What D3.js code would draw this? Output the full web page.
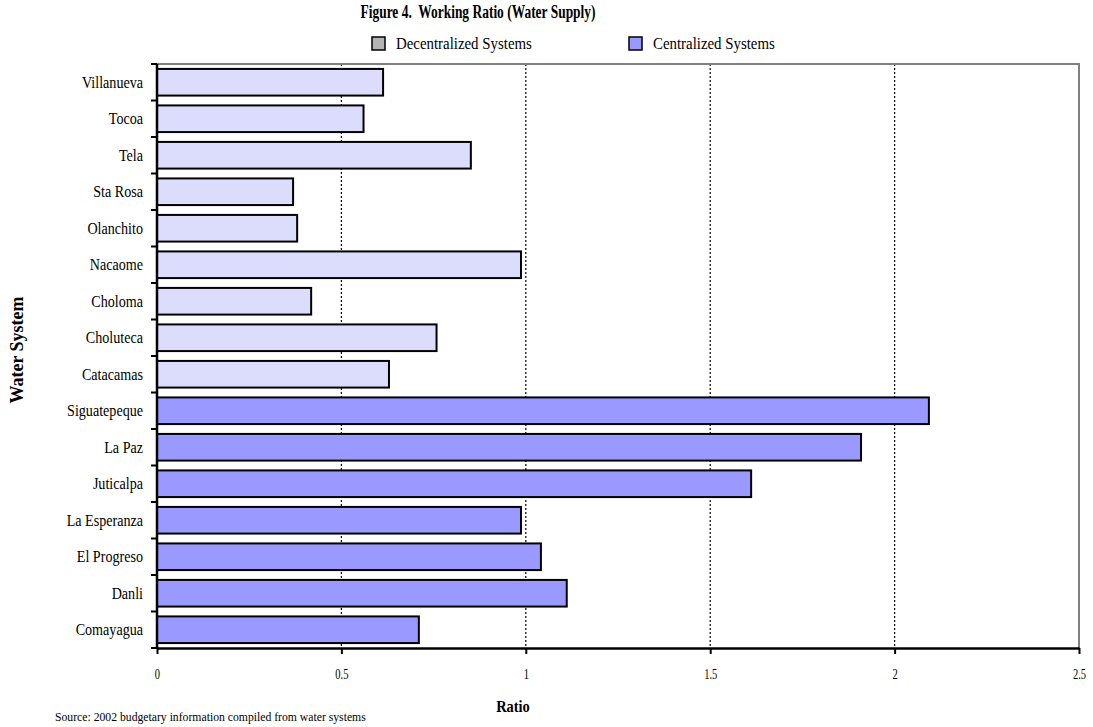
<!DOCTYPE html>
<html>
<head>
<meta charset="utf-8">
<script src="https://cdn.jsdelivr.net/npm/d3@7/dist/d3.min.js"></script>
<style>
  body { margin: 0; background: #fff; }
  svg { display: block; font-family: "Liberation Serif", "Times New Roman", serif; }
  text { white-space: pre; }
</style>
</head>
<body>
<svg id="chart" width="1093" height="727"></svg>
<script>
// Water systems, listed top to bottom
const systems = ["Villanueva", "Tocoa", "Tela", "Sta Rosa", "Olanchito", "Nacaome", "Choloma",
  "Choluteca", "Catacamas", "Siguatepeque", "La Paz", "Juticalpa", "La Esperanza",
  "El Progreso", "Danli", "Comayagua"];
// Working ratio per system
const ratios = [0.613, 0.56, 0.851, 0.369, 0.38, 0.987, 0.418, 0.758, 0.629,
  2.093, 1.909, 1.611, 0.987, 1.041, 1.111, 0.71];
// System type per system
const systemTypes = ["Decentralized", "Decentralized", "Decentralized", "Decentralized",
  "Decentralized", "Decentralized", "Decentralized", "Decentralized", "Decentralized",
  "Centralized", "Centralized", "Centralized", "Centralized", "Centralized", "Centralized", "Centralized"];
const xTicks = [0, 0.5, 1, 1.5, 2, 2.5];
const legendItems = ["Decentralized Systems", "Centralized Systems"];

const rows = systems.map((name, i) => ({ name, value: ratios[i], type: systemTypes[i] }));

const svg = d3.select("#chart");
const plot = { left: 157, right: 1079, top: 64, bottom: 648 };

const x = d3.scaleLinear().domain([0, 2.5]).range([plot.left, plot.right]);
const y = d3.scaleBand().domain(systems).range([plot.top, plot.bottom])
  .paddingInner(0.27).paddingOuter(0.135);

const barFill = { Decentralized: "#dcdcfc", Centralized: "#9999ff" };
const legendFill = ["#b4b4b4", "#9999ff"];

// Narrow serif text: a label drawn at (tx, ty) and squeezed horizontally by sx
function label(parent, tx, ty, str, size, sx, anchor, weight) {
  const g = parent.append("g").attr("transform", `translate(${tx},${ty}) scale(${sx},1)`);
  g.append("text").attr("text-anchor", anchor || "start")
    .attr("font-size", size).attr("font-weight", weight || "normal").text(str);
  return g;
}

// Title
label(svg, 478, 18, "Figure 4.  Working Ratio (Water Supply)", 19.5, 0.69, "middle", "bold");

// Legend
const legendX = [372, 629];
legendItems.forEach((str, i) => {
  svg.append("rect").attr("x", legendX[i]).attr("y", 37).attr("width", 13).attr("height", 13)
    .attr("fill", legendFill[i]).attr("stroke", "#000").attr("stroke-width", 1.5);
  label(svg, legendX[i] + 24, 49, str, 16, 0.93);
});

// Vertical dotted gridlines
svg.append("g").selectAll("line").data(xTicks.filter(t => t > 0 && t < 2.5)).join("line")
  .attr("x1", d => x(d)).attr("x2", d => x(d))
  .attr("y1", plot.top).attr("y2", plot.bottom)
  .attr("stroke", "#000").attr("stroke-width", 1.2).attr("stroke-dasharray", "2,2");

// Gray frame on top and right
svg.append("path")
  .attr("d", `M${plot.left},${plot.top}H${plot.right}V${plot.bottom}`)
  .attr("fill", "none").attr("stroke", "#808080").attr("stroke-width", 2);

// Bars
svg.append("g").selectAll("rect").data(rows).join("rect")
  .attr("x", x(0))
  .attr("y", d => y(d.name))
  .attr("width", d => x(d.value) - x(0))
  .attr("height", y.bandwidth())
  .attr("fill", d => barFill[d.type])
  .attr("stroke", "#000").attr("stroke-width", 2);

// Category axis: ticks at band boundaries
const yAxis = svg.append("g");
yAxis.append("line").attr("x1", plot.left).attr("x2", plot.left)
  .attr("y1", plot.top).attr("y2", plot.bottom).attr("stroke", "#000").attr("stroke-width", 2.5);
const boundaries = d3.range(systems.length + 1).map(i => plot.top + i * y.step());
yAxis.selectAll("line.tick").data(boundaries).join("line").attr("class", "tick")
  .attr("x1", plot.left - 6).attr("x2", plot.left).attr("y1", d => d).attr("y2", d => d)
  .attr("stroke", "#000").attr("stroke-width", 2);
systems.forEach(name => {
  label(yAxis, plot.left - 14, y(name) + y.bandwidth() / 2 + 5.5, name, 17, 0.83, "end");
});

// Value axis
const xAxis = svg.append("g").attr("transform", `translate(0,${plot.bottom})`)
  .call(d3.axisBottom(x).tickValues(xTicks).tickSize(6).tickSizeOuter(0).tickPadding(15)
    .tickFormat(d => String(d)));
xAxis.select(".domain").attr("stroke", "#000").attr("stroke-width", 2.5);
xAxis.selectAll(".tick line").attr("stroke", "#000").attr("stroke-width", 2);
xAxis.selectAll(".tick text").attr("font-family", "Liberation Serif, serif")
  .attr("font-size", 14).attr("fill", "#000").attr("transform", "scale(0.75,1)");

// Axis titles
label(svg, 513, 712, "Ratio", 17, 0.85, "middle", "bold");
svg.append("text").attr("transform", "translate(23,350) rotate(-90)").attr("text-anchor", "middle")
  .attr("font-size", 18).attr("font-weight", "bold").text("Water System");

// Source note
label(svg, 55, 721, "Source: 2002 budgetary information compiled from water systems", 13, 0.9);
</script>
</body>
</html>
